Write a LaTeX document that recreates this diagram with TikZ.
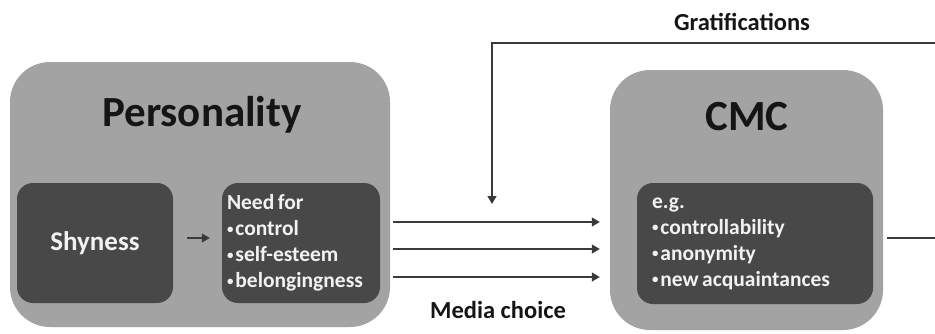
\documentclass[tikz,border=0pt]{standalone}
\usepackage{fontspec}
\setmainfont{Carlito}
\usetikzlibrary{arrows.meta}
\definecolor{outerg}{HTML}{A3A3A3}
\definecolor{innerg}{HTML}{484848}
\definecolor{lineg}{HTML}{3A3A3A}
\definecolor{txtw}{HTML}{F2F2F2}
\definecolor{txtk}{HTML}{151515}
\newcommand{\mybul}{\raisebox{0.25ex}{\scalebox{0.6}{•}}\hspace{2pt}}
\newcommand{\nsp}{\hspace{3.5pt}}
\begin{document}
\begin{tikzpicture}[x=1pt,y=-1pt,
  outerbox/.style={fill=outerg, rounded corners=40pt, draw=none, inner sep=0pt},
  innerbox/.style={fill=innerg, rounded corners=16pt, draw=none, text=txtw, align=left, inner ysep=0pt,
     font=\bfseries\fontsize{21.5}{26}\selectfont},
  title/.style={text=txtk, font=\bfseries\fontsize{43}{50}\selectfont},
  label/.style={text=txtk, font=\bfseries\fontsize{24.5}{28}\selectfont},
  conn/.style={draw=lineg, line width=1.2pt},
  tip/.style={-{Triangle[length=8pt,width=9pt]}}]
\useasboundingbox (0,0) rectangle (935,333);
% big boxes
\node[outerbox, minimum width=380pt, minimum height=265pt] (pers) at (200,194.5) {};
\node[outerbox, minimum width=273pt, minimum height=260pt] (cmc) at (746.5,200) {};
\node[title] (perst) at (202,115) {Personality};
\node[title] (cmct) at (747,117) {CMC};
% inner boxes
\node[innerbox, align=center, minimum width=156pt, minimum height=120pt, inner xsep=0pt,
      font=\bfseries\fontsize{27}{30}\selectfont] (shy) at (95,243) {Shyness};
\node[innerbox, minimum height=120pt, text width=148pt, inner xsep=5pt] (need) at (301,243)
  {Need\nsp for\\ \mybul control\\ \mybul self-esteem\\ \mybul belongingness};
\node[innerbox, minimum height=121pt, text width=206pt, inner xsep=15pt] (ex) at (755,243.5)
  {e.g.\\ \mybul controllability\\ \mybul anonymity\\ \mybul new\nsp acquaintances};
% connectors
\draw[conn,tip,shorten <=14pt,shorten >=12pt] ([yshift=5pt]shy.east) -- ([yshift=5pt]need.west);
\foreach \yy in {222,249,277}
  \draw[conn,tip,shorten <=3pt,shorten >=10pt] (pers.east |- 0,\yy) -- (cmc.west |- 0,\yy);
\coordinate (gR) at (936,43);
\coordinate (gtip) at (492,204);
\draw[conn,tip] (gR) -| (gtip);
\coordinate (oR) at (936,238);
\draw[conn,shorten <=4pt] (cmc.east |- oR) -- (oR);
% labels
\node[label] (grat) at (742,22) {Gratifications};
\node[label] (media) at (498,310) {Media choice};
\end{tikzpicture}
\end{document}
